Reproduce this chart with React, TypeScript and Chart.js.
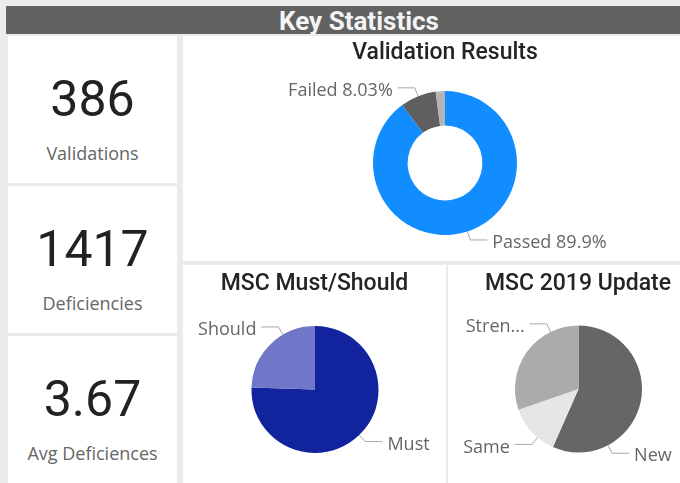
import React, { useEffect, useRef } from 'react';
import { Chart, registerables } from 'chart.js';

Chart.register(...registerables);

// ---- data ----
const validationCategories = ['Passed', 'Failed', 'Not Validated'];
const validationCounts = [347, 31, 8];
const validationColors = ['#118DFF', '#5F5F5F', '#B5B5B5'];

const mustShouldCategories = ['Must', 'Should'];
const mustShouldCounts = [1070, 347];
const mustShouldColors = ['#12239E', '#7077C8'];

const updateCategories = ['New', 'Same', 'Strengthened'];
const updateCounts = [802, 186, 429];
const updateColors = ['#666666', '#E6E6E6', '#ABABAB'];

const kpiValues = ['386', '1417', '3.67'];
const kpiLabels = ['Validations', 'Deficiencies', 'Avg Deficiences'];

const LABEL_FONT = '18px "Open Sans"';

const leaderPlugin = {
  id: 'leaderLabels',
  afterDatasetsDraw(chart: any, _args: any, opts: any) {
    if (!opts || !opts.enabled) return;
    const ctx = chart.ctx;
    const meta = chart.getDatasetMeta(0);
    const data: number[] = chart.data.datasets[0].data;
    const labels: string[] = chart.data.labels;
    const total = data.reduce((a: number, b: number) => a + b, 0);
    const ext = 9, hor = 17, gap = 5;
    const lim = (26 * Math.PI) / 180;
    const minX = opts.padLeft;
    const maxX = opts.maxX - opts.padRight;
    ctx.save();
    ctx.font = LABEL_FONT;
    ctx.textBaseline = 'middle';
    meta.data.forEach((arc: any, i: number) => {
      const frac = data[i] / total;
      if (frac < opts.minFraction) return;
      const p = arc.getProps(['x', 'y', 'startAngle', 'endAngle', 'outerRadius'], true);
      let text = opts.showPercent ? `${labels[i]} ${(frac * 100).toPrecision(3)}%` : labels[i];
      const mid = (p.startAngle + p.endAngle) / 2;
      const right = Math.cos(mid) >= 0;
      const lower = Math.sin(mid) > 0;
      let V: number;
      if (right) V = lower ? Math.PI / 2 : -Math.PI / 2;
      else V = lower ? Math.PI / 2 : (3 * Math.PI) / 2;
      let target = mid;
      if (Math.abs(mid - V) > lim) {
        target = mid < V ? V - lim : V + lim;
      }
      const lo = p.startAngle + 0.02, hi = p.endAngle - 0.02;
      target = Math.min(hi, Math.max(lo, target));
      const dir = target >= mid ? 1 : -1;
      const R = p.outerRadius;
      const geom = (a: number) => {
        const ex = p.x + (R + ext) * Math.cos(a);
        const ey = p.y + (R + ext) * Math.sin(a);
        const lx = right ? ex + hor : ex - hor;
        const tx = right ? lx + gap : lx - gap;
        return { sx: p.x + R * Math.cos(a), sy: p.y + R * Math.sin(a), ex, ey, lx, tx };
      };
      const fits = (g: any, w: number) => (right ? g.tx + w <= maxX : g.tx - w >= minX);
      let w = ctx.measureText(text).width;
      let a = mid;
      let g = geom(a);
      const step = (0.25 * Math.PI) / 180;
      while (!fits(g, w) && (dir > 0 ? a < target : a > target)) {
        a = dir > 0 ? Math.min(target, a + step) : Math.max(target, a - step);
        g = geom(a);
      }
      if (!fits(g, w)) {
        let base = labels[i];
        while (base.length > 1) {
          base = base.slice(0, -1);
          text = base + '...';
          w = ctx.measureText(text).width;
          if (fits(g, w)) break;
        }
      }
      ctx.strokeStyle = opts.lineColor;
      ctx.lineWidth = 1;
      ctx.beginPath();
      ctx.moveTo(g.sx, g.sy);
      ctx.lineTo(g.ex, g.ey);
      ctx.lineTo(g.lx, g.ey);
      ctx.stroke();
      ctx.fillStyle = opts.color;
      ctx.textAlign = right ? 'left' : 'right';
      ctx.fillText(text, g.tx, g.ey + 3);
    });
    ctx.restore();
  },
};

function makePie(
  canvas: HTMLCanvasElement,
  labels: string[],
  values: number[],
  colors: string[],
  cutout: string,
  padding: any,
  labelOpts: any
) {
  return new Chart(canvas, {
    type: 'doughnut',
    data: {
      labels,
      datasets: [{ data: values, backgroundColor: colors, borderWidth: 0 }],
    },
    options: {
      responsive: false,
      maintainAspectRatio: false,
      animation: false,
      cutout,
      layout: { padding },
      plugins: {
        legend: { display: false },
        tooltip: { enabled: false },
        leaderLabels: { enabled: true, color: '#666666', lineColor: '#A8A8A8', ...labelOpts },
      } as any,
    },
    plugins: [leaderPlugin as any],
  });
}

const cardStyle = (left: number, top: number, width: number, height: number): React.CSSProperties => ({
  position: 'absolute',
  left,
  top,
  width,
  height,
  background: '#ffffff',
});

const titleStyle: React.CSSProperties = {
  position: 'absolute',
  left: 0,
  right: 0,
  top: 0,
  height: 30,
  lineHeight: '30px',
  textAlign: 'center',
  font: '500 23px Roboto',
  color: '#252423',
};

export default function App() {
  const vRef = useRef<HTMLCanvasElement>(null);
  const mRef = useRef<HTMLCanvasElement>(null);
  const uRef = useRef<HTMLCanvasElement>(null);

  useEffect(() => {
    const charts: Chart[] = [];
    if (vRef.current)
      charts.push(
        makePie(vRef.current, validationCategories, validationCounts, validationColors, '52%',
          { left: 190, right: 190, top: 55, bottom: 26 },
          { showPercent: true, minFraction: 0.03, padLeft: 15, padRight: 8, maxX: 497 })
      );
    if (mRef.current)
      charts.push(
        makePie(mRef.current, mustShouldCategories, mustShouldCounts, mustShouldColors, '0%',
          { left: 68.5, right: 67.5, top: 61, bottom: 30 },
          { showPercent: false, minFraction: 0.03, padLeft: 15, padRight: 8, maxX: 263 })
      );
    if (uRef.current)
      charts.push(
        makePie(uRef.current, updateCategories, updateCounts, updateColors, '0%',
          { left: 67, right: 66, top: 60.5, bottom: 30.5 },
          { showPercent: false, minFraction: 0.03, padLeft: 15, padRight: 8, maxX: 232 })
      );
    return () => charts.forEach((c) => c.destroy());
  }, []);

  const kpiTops = [36, 186, 336];

  return (
    <div
      style={{
        position: 'fixed',
        left: 0,
        top: 0,
        width: 680,
        height: 483,
        overflow: 'hidden',
        background: '#ebebeb',
      }}
    >
      <div
        style={{
          position: 'absolute',
          left: 6,
          top: 6,
          width: 706,
          height: 28,
          background: '#626262',
          color: '#f4f4f4',
          textAlign: 'center',
          lineHeight: '28px',
          font: '700 26px Roboto',
        }}
      >
        Key Statistics
      </div>

      {kpiValues.map((v, i) => (
        <div key={i} style={cardStyle(8, kpiTops[i], 169, i === 2 ? 160 : 147)}>
          <div
            style={{
              position: 'absolute',
              left: 0,
              right: 0,
              top: 64 - 30,
              height: 60,
              lineHeight: '60px',
              textAlign: 'center',
              font: '400 50px Roboto',
              color: '#222222',
            }}
          >
            {v}
          </div>
          <div
            style={{
              position: 'absolute',
              left: 0,
              right: 0,
              top: 120 - 15,
              height: 30,
              lineHeight: '30px',
              textAlign: 'center',
              font: '18px "Open Sans"',
              color: '#666666',
            }}
          >
            {kpiLabels[i]}
          </div>
        </div>
      ))}

      <div style={cardStyle(183, 36, 524, 225)}>
        <canvas ref={vRef} width={524} height={225} style={{ position: 'absolute', left: 0, top: 0 }} />
        <div style={{ ...titleStyle, top: 2 }}>Validation Results</div>
      </div>

      <div style={cardStyle(183, 265, 263, 218)}>
        <canvas ref={mRef} width={263} height={218} style={{ position: 'absolute', left: 0, top: 0 }} />
        <div style={{ ...titleStyle, top: 4 }}>MSC Must/Should</div>
      </div>

      <div style={cardStyle(448, 265, 260, 218)}>
        <canvas ref={uRef} width={260} height={218} style={{ position: 'absolute', left: 0, top: 0 }} />
        <div style={{ ...titleStyle, top: 4 }}>MSC 2019 Update</div>
      </div>
    </div>
  );
}
